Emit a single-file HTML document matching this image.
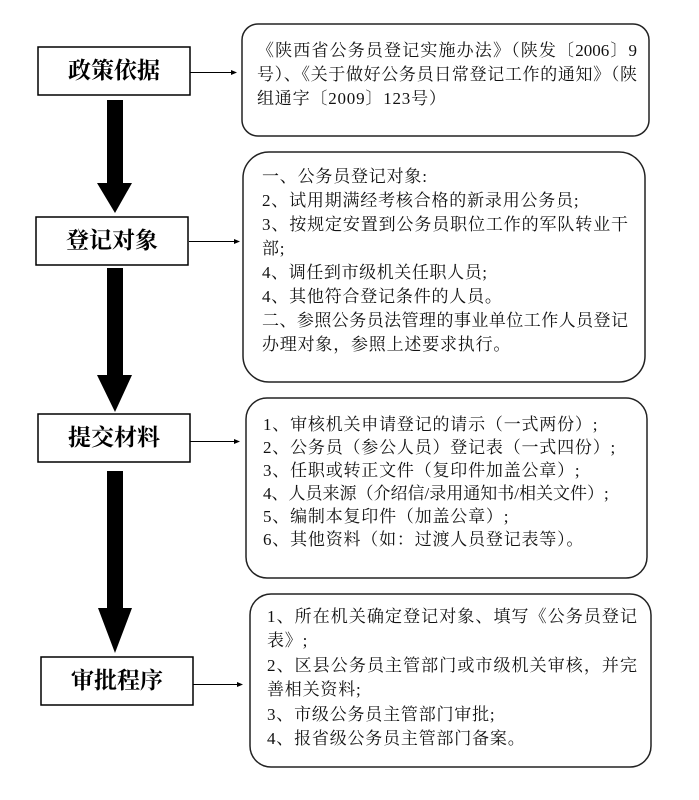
<!DOCTYPE html>
<html><head><meta charset="utf-8"><style>
html,body{margin:0;padding:0;background:#fff;}
body{width:699px;height:800px;position:relative;overflow:hidden;}
svg{position:absolute;left:0;top:0;}
.lbl{position:absolute;font-family:"Liberation Serif","Noto Serif CJK SC",serif;font-weight:bold;font-size:23px;color:#000;text-align:center;line-height:48px;height:48px;}
.t{position:absolute;font-family:"Liberation Serif","Noto Serif CJK SC",serif;font-size:17px;color:#111;white-space:nowrap;letter-spacing:0.8px;}
.t div{white-space:nowrap;}
.j{text-align:justify;text-align-last:justify;letter-spacing:0;}
</style></head><body>
<svg width="699" height="800" viewBox="0 0 699 800">
 <g fill="#fff" stroke="#000" stroke-width="1.5">
  <rect x="38" y="47" width="152" height="48"/>
  <rect x="36" y="217" width="152" height="48"/>
  <rect x="38" y="414" width="152" height="48"/>
  <rect x="41" y="657" width="152" height="48"/>
 </g>
 <g fill="none" stroke="#222" stroke-width="1.5">
  <rect x="242" y="24" width="407" height="112" rx="16" ry="16"/>
  <rect x="243" y="152" width="402" height="230" rx="26" ry="26"/>
  <rect x="246" y="398" width="401" height="180" rx="21" ry="21"/>
  <rect x="250" y="594" width="401" height="173" rx="21" ry="21"/>
 </g>
 <g fill="#000">
  <polygon points="107,100 123,100 123,183 132,183 115,213 97,183 107,183"/>
  <polygon points="107,268 123,268 123,375 132,375 115,412 97,375 107,375"/>
  <polygon points="107,471 123,471 123,608 132,608 115,653 98,608 107,608"/>
 </g>
 <g stroke="#000" stroke-width="1">
  <line x1="190" y1="72.5" x2="234" y2="72.5"/>
  <line x1="189" y1="241.5" x2="237" y2="241.5"/>
  <line x1="190" y1="441.5" x2="237" y2="441.5"/>
  <line x1="193" y1="684.5" x2="240" y2="684.5"/>
 </g>
 <g fill="#000">
  <polygon points="237,72.5 231,70 231,75"/>
  <polygon points="240,241.5 234,239 234,244"/>
  <polygon points="240,441.5 234,439 234,444"/>
  <polygon points="243,684.5 237,682 237,687"/>
 </g>
</svg>

<div class="lbl" style="left:38px;top:47px;width:152px;">政策依据</div>
<div class="lbl" style="left:36px;top:217px;width:152px;">登记对象</div>
<div class="lbl" style="left:38px;top:414px;width:152px;">提交材料</div>
<div class="lbl" style="left:41px;top:657px;width:152px;">审批程序</div>

<div class="t" style="left:257px;top:39px;line-height:24px;">
 <div class="j" style="width:380px;">《陕西省公务员登记实施办法》（陕发〔2006〕9</div>
 <div class="j" style="width:380px;">号）、《关于做好公务员日常登记工作的通知》（陕</div>
 <div>组通字〔2009〕123号）</div>
</div>

<div class="t" style="left:262px;top:165px;line-height:24px;">
 <div>一、公务员登记对象:</div>
 <div style="letter-spacing:0.8px;">2、试用期满经考核合格的新录用公务员;</div>
 <div class="j" style="width:366px;">3、按规定安置到公务员职位工作的军队转业干</div>
 <div>部;</div>
 <div style="letter-spacing:0.6px;">4、调任到市级机关任职人员;</div>
 <div>4、其他符合登记条件的人员。</div>
 <div class="j" style="width:366px;">二、参照公务员法管理的事业单位工作人员登记</div>
 <div>办理对象，参照上述要求执行。</div>
</div>

<div class="t" style="left:263px;top:413px;line-height:23px;">
 <div>1、审核机关申请登记的请示（一式两份）;</div>
 <div>2、公务员（参公人员）登记表（一式四份）;</div>
 <div>3、任职或转正文件（复印件加盖公章）;</div>
 <div style="letter-spacing:0;">4、人员来源（介绍信/录用通知书/相关文件）;</div>
 <div>5、编制本复印件（加盖公章）;</div>
 <div>6、其他资料（如：过渡人员登记表等）。</div>
</div>

<div class="t" style="left:267px;top:605px;line-height:24.4px;">
 <div class="j" style="width:370px;">1、所在机关确定登记对象、填写《公务员登记</div>
 <div>表》;</div>
 <div class="j" style="width:370px;">2、区县公务员主管部门或市级机关审核，并完</div>
 <div>善相关资料;</div>
 <div>3、市级公务员主管部门审批;</div>
 <div>4、报省级公务员主管部门备案。</div>
</div>
</body></html>
